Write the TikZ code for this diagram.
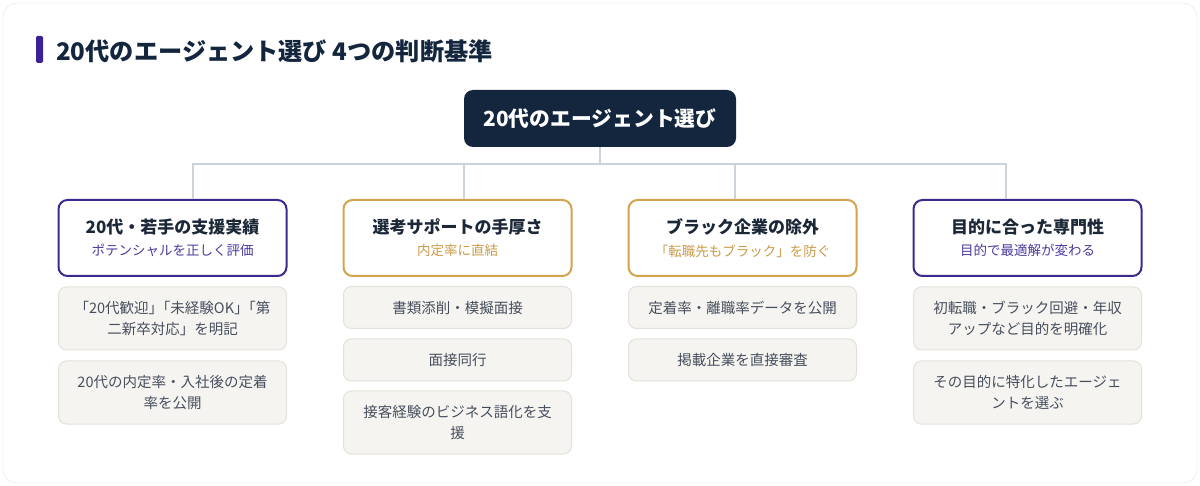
\documentclass[tikz,border=0pt]{standalone}
\usepackage{fontspec}
\setmainfont{Noto Sans CJK JP}
\definecolor{navy}{HTML}{13263D}
\definecolor{catink}{HTML}{1C2838}
\definecolor{barviolet}{HTML}{3A2196}
\definecolor{violet}{HTML}{3A2B8E}
\definecolor{violetsub}{HTML}{4B3C9E}
\definecolor{gold}{HTML}{D3A34E}
\definecolor{goldsub}{HTML}{C99B4A}
\definecolor{itemfill}{HTML}{F5F4F0}
\definecolor{itemline}{HTML}{E4E1DA}
\definecolor{itemtext}{HTML}{474F5E}
\definecolor{linkgray}{HTML}{CDD3DA}
\definecolor{cardline}{HTML}{E6E4DE}
\tikzset{root/.style={fill=navy, rounded corners=9pt, minimum width=272pt, minimum height=57pt, inner sep=0pt, text=white, font=\bfseries\fontsize{20.8}{24}\selectfont},
	cat/.style={draw=#1, line width=2pt, fill=white, rounded corners=9pt, minimum width=228pt, minimum height=76pt, inner sep=0pt, align=center},
	item/.style={draw=itemline, line width=1pt, fill=itemfill, rounded corners=8pt, minimum width=228pt, minimum height=#1, inner sep=0pt, align=center, text=itemtext, font=\fontsize{14.5}{21.5}\selectfont},
	item/.default={42pt},
	link/.style={draw=linkgray, line width=2pt}}
\newcommand{\cattext}[3]{{\bfseries\fontsize{17}{20}\selectfont\color{catink}#1}\\[8pt]{\fontsize{13.5}{16}\selectfont\color{#3}#2}}
\newcommand{\tightgap}{\kern-.5em}

\begin{document}
\begin{tikzpicture}[x=1pt,y=-1pt]
	% card
	\useasboundingbox (0,0) rectangle (1200,486);
	\fill [white] (0,0) rectangle (1200,486);
	\draw [cardline, fill=white, rounded corners=14pt] (3,3) rectangle (1197,483);
	
	% title
	\fill [barviolet, rounded corners=1.5pt] (36,36) rectangle (43,63);
	\node [anchor=west, inner sep=0pt, text=navy, font=\bfseries\fontsize{24.2}{28}\selectfont] (title) at (56,51) {20代のエージェント選び 4つの判断基準};
	
	% root
	\node [root] (root) at (600,118.5) {20代のエージェント選び};
	
	% categories
	\node [cat=violet] (cat1) at (172.5,238) {\cattext{20代・若手の支援実績}{ポテンシャルを正しく評価}{violetsub}};
	\node [cat=gold] (cat2) at (457.5,238) {\cattext{選考サポートの手厚さ}{内定率に直結}{goldsub}};
	\node [cat=gold] (cat3) at (742.5,238) {\cattext{ブラック企業の除外}{「転職先もブラック」を防ぐ}{goldsub}};
	\node [cat=violet] (cat4) at (1027.5,238) {\cattext{目的に合った専門性}{目的で最適解が変わる}{violetsub}};
	
	% links
	\coordinate (bus1) at (193,164);
	\coordinate (bus2) at (464,164);
	\coordinate (bus3) at (735,164);
	\coordinate (bus4) at (1006,164);
	\draw [link] (root.south) -- (root.south |- bus1);
	\draw [link] (bus1 |- cat1.north) -- (bus1) -- (bus4) -- (bus4 |- cat4.north);
	\draw [link] (bus2) -- (bus2 |- cat2.north);
	\draw [link] (bus3) -- (bus3 |- cat3.north);
	
	% items 1
	\node [item=63pt] (c1a) at (172.5,318.5) {「20代歓迎」\tightgap「未経験OK」\tightgap「第\\二新卒対応」を明記};
	\node [item=63pt] (c1b) at (172.5,392.5) {20代の内定率・入社後の定着\\率を公開};
	% items 2
	\node [item] (c2a) at (457.5,307.5) {書類添削・模擬面接};
	\node [item] (c2b) at (457.5,360) {面接同行};
	\node [item=63pt] (c2c) at (457.5,422.5) {接客経験のビジネス語化を支\\援};
	% items 3
	\node [item] (c3a) at (742.5,307.5) {定着率・離職率データを公開};
	\node [item] (c3b) at (742.5,360) {掲載企業を直接審査};
	% items 4
	\node [item=63pt] (c4a) at (1027.5,318.5) {初転職・ブラック回避・年収\\アップなど目的を明確化};
	\node [item=63pt] (c4b) at (1027.5,392.5) {その目的に特化したエージェ\\ントを選ぶ};
\end{tikzpicture}
\end{document}
